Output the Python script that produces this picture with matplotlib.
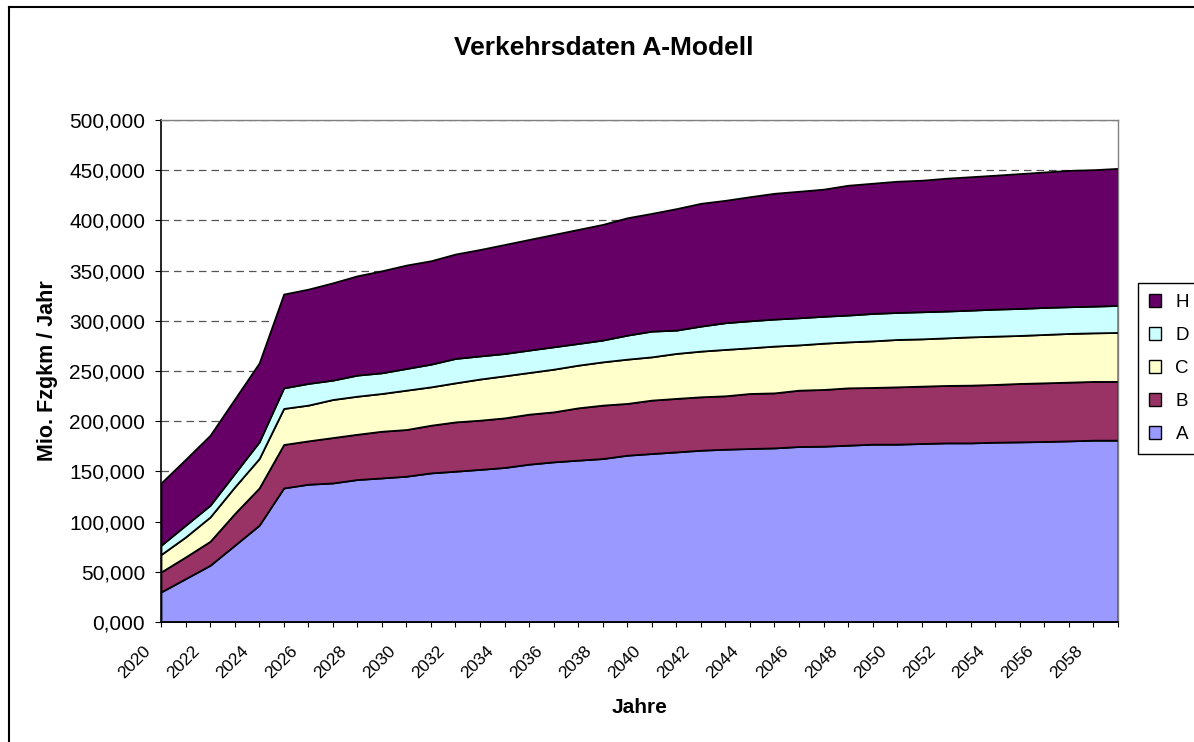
import matplotlib
matplotlib.use("Agg")
import matplotlib.pyplot as plt
from matplotlib.patches import Patch
from matplotlib.lines import Line2D
from matplotlib.ticker import FuncFormatter
from matplotlib.transforms import ScaledTranslation

plt.rcParams.update({
    "font.family": ["Liberation Sans", "DejaVu Sans"],
    "axes.linewidth": 1.2,
})

years = list(range(2020, 2060))

# values (Mio. Fzgkm / Jahr, thousands)
A = [29.9, 43.2, 56.5, 76.4, 96.4, 133.5, 137.2, 138.5, 141.9, 143.5,
     145.2, 148.5, 150.2, 152.0, 153.9, 157.2, 159.5, 161.2, 162.8, 166.1,
     167.8, 169.4, 171.1, 172.1, 172.8, 173.4, 174.8, 175.1, 176.1, 177.1,
     177.1, 177.8, 178.4, 178.4, 179.1, 179.4, 179.8, 180.4, 181.1, 181.1]
B = [19.9, 21.6, 23.9, 31.6, 37.1, 43.3, 43.2, 45.2, 45.1, 46.5,
     46.5, 47.5, 49.1, 49.0, 49.4, 49.8, 49.8, 52.1, 53.2, 51.6,
     53.2, 53.3, 53.2, 53.2, 54.8, 54.8, 56.1, 56.5, 57.1, 56.5,
     57.1, 57.1, 57.2, 57.5, 57.5, 58.2, 58.4, 58.5, 58.5, 58.5]
C = [17.4, 19.9, 24.2, 26.5, 29.3, 35.9, 35.6, 37.9, 37.9, 37.6,
     39.2, 38.2, 38.9, 41.0, 41.9, 41.5, 42.5, 42.5, 43.1, 44.1,
     43.1, 44.8, 45.5, 46.2, 45.5, 46.6, 45.1, 46.1, 45.8, 46.4,
     47.2, 47.1, 47.4, 48.1, 48.1, 47.8, 48.2, 48.5, 48.4, 48.8]
D = [9.2, 11.7, 11.7, 13.4, 16.6, 20.5, 21.6, 19.3, 21.0, 20.6,
     21.6, 22.6, 24.3, 23.0, 22.2, 22.3, 22.3, 21.6, 21.7, 23.9,
     25.6, 23.2, 24.9, 26.6, 26.9, 26.9, 27.0, 26.8, 26.7, 27.3,
     26.9, 27.0, 26.7, 26.6, 26.9, 26.9, 26.9, 26.6, 26.6, 26.9]
H = [62.0, 65.6, 69.7, 74.1, 78.6, 93.4, 93.9, 96.9, 98.9, 101.6,
     103.0, 103.0, 104.0, 106.0, 108.6, 110.2, 111.9, 113.6, 115.2, 116.9,
     117.3, 121.0, 122.3, 121.9, 123.6, 125.3, 126.0, 126.6, 129.3, 129.7,
     130.7, 131.0, 132.3, 132.9, 133.4, 134.3, 134.9, 135.8, 135.9, 136.5]

names = ["A", "B", "C", "D", "H"]
colors = ["#9999FF", "#993366", "#FFFFCC", "#CCFFFF", "#660066"]

W, Hpx = 1194, 742
fig = plt.figure(figsize=(W / 100, Hpx / 100), dpi=100)
ax = fig.add_axes([161 / W, 1 - 622 / Hpx, (1118 - 161) / W, (622 - 120) / Hpx])

ax.stackplot(years, A, B, C, D, H, colors=colors, edgecolor="black", linewidth=1.3)

ax.set_xlim(2020, 2059)
ax.set_ylim(0, 500)
ax.set_yticks(range(0, 501, 50))
ax.yaxis.set_major_formatter(FuncFormatter(lambda v, p: f"{v:.3f}".replace(".", ",")))
ax.set_xticks(years)
ax.set_xticklabels([str(y) if y % 2 == 0 else "" for y in years], rotation=45, ha="right")
ax.tick_params(axis="x", labelsize=12.5, length=3.5, pad=12)
ax.tick_params(axis="y", labelsize=15, length=4.5, pad=7)

# shift rotated year labels a bit left, like the original
shift = ScaledTranslation(-8 / 100, 0, fig.dpi_scale_trans)
for lbl in ax.get_xticklabels():
    lbl.set_transform(lbl.get_transform() + shift)

ax.set_axisbelow(True)
ax.yaxis.grid(True, linestyle=(0, (6, 4)), color="#555555", linewidth=0.9)

ax.spines["top"].set_color("#808080")
ax.spines["right"].set_color("#808080")
ax.spines["top"].set_linewidth(1)
ax.spines["right"].set_linewidth(1)

ax.set_xlabel("Jahre", fontsize=15, fontweight="bold", labelpad=12)
ax.set_ylabel("Mio. Fzgkm / Jahr", fontsize=15.5, fontweight="bold", labelpad=8)
fig.text(604 / W, 1 - 48 / Hpx, "Verkehrsdaten A-Modell", fontsize=19,
         fontweight="bold", ha="center", va="center")

handles = [Patch(facecolor=c, edgecolor="black", linewidth=1, label=n)
           for n, c in zip(names, colors)][::-1]
leg = ax.legend(handles=handles, loc="upper left",
                bbox_to_anchor=(1138 / W, 1 - 283 / Hpx), bbox_transform=fig.transFigure,
                borderaxespad=0, fontsize=13.5, handlelength=0.65, handleheight=0.65,
                handletextpad=0.75, labelspacing=0.85, borderpad=0.6,
                fancybox=False, framealpha=1)
leg.get_frame().set_edgecolor("black")
leg.get_frame().set_linewidth(1)

# outer chart frame (only left and top edges are inside the picture)
fig.add_artist(Line2D([8.5 / W, 8.5 / W], [0, 1 - 7 / Hpx], transform=fig.transFigure,
                      color="black", linewidth=1.5))
fig.add_artist(Line2D([8.5 / W, 1], [1 - 7 / Hpx, 1 - 7 / Hpx], transform=fig.transFigure,
                      color="black", linewidth=1.5))

fig.savefig("out.png", dpi=100, facecolor="white")
